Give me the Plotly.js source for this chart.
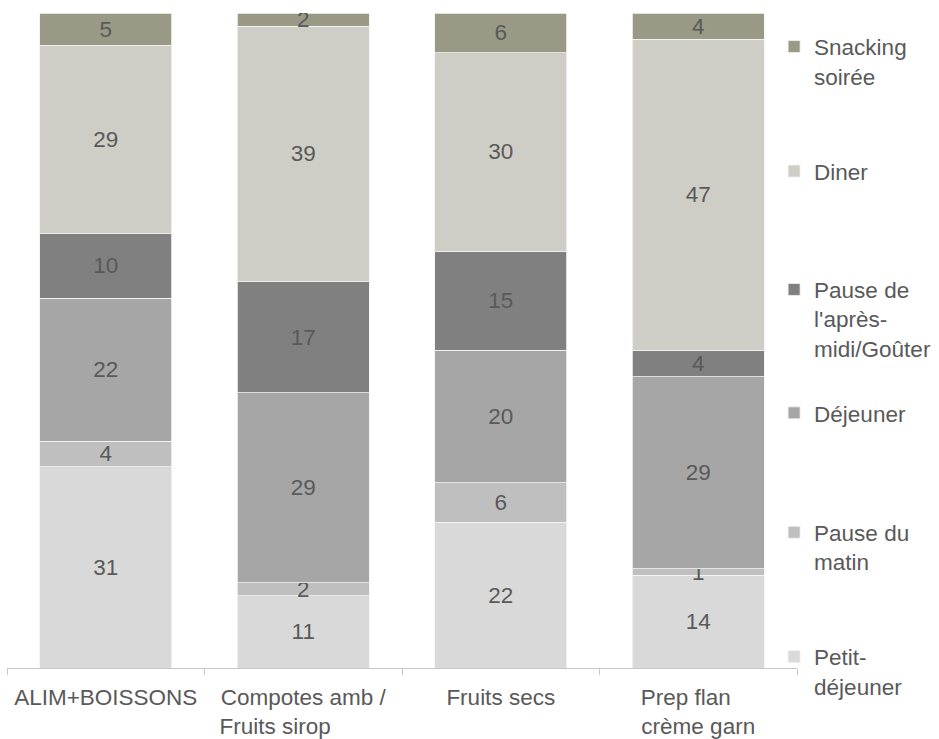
<!DOCTYPE html>
<html>
<head>
<meta charset="utf-8">
<script src="https://cdn.plot.ly/plotly-3.0.1.min.js"></script>
<style>html,body{margin:0;padding:0;background:#fff;}#chart{width:939px;height:739px;}</style>
</head>
<body>
<div id="chart"></div>
<script>
// Categories and padded tick labels (padding keeps lines left-aligned)
const categories = ["ALIM+BOISSONS", "Compotes amb / Fruits sirop", "Fruits secs", "Prep flan crème garn"];
const tickLabels = [
  "ALIM+BOISSONS",
  "Compotes amb /<br>Fruits sirop&nbsp;&nbsp;&nbsp;&nbsp;&nbsp;&nbsp;&nbsp;&nbsp;&nbsp;",
  "Fruits secs",
  "Prep flan&nbsp;&nbsp;&nbsp;&nbsp;<br>crème garn"
];

// Series values (share in %)
const petitDejeuner = [31, 11, 22, 14];
const pauseMatin    = [4, 2, 6, 1];
const dejeuner      = [22, 29, 20, 29];
const pauseApresMidi= [10, 17, 15, 4];
const diner         = [29, 39, 30, 47];
const snackingSoiree= [5, 2, 6, 4];

const seriesNames = ["Petit-<br>déjeuner", "Pause du<br>matin", "Déjeuner", "Pause de<br>l'après-<br>midi/Goûter", "Diner", "Snacking<br>soirée"];
const seriesValues = [petitDejeuner, pauseMatin, dejeuner, pauseApresMidi, diner, snackingSoiree];
const seriesColors = ["#D9D9D9", "#BFBFBF", "#A6A6A6", "#808080", "#CECEC6", "#9A9985"];

const FONT = "Liberation Sans, Arial, sans-serif";
const TXT = "#595959";
const FS = 22.5;

const legendIds = ["legend6", "legend5", "legend4", "legend3", "legend2", "legend"];
const legendTops = [0.0496, 0.2395, 0.4218, 0.6102, 0.7910, 0.9810];

const traces = seriesValues.map((vals, i) => ({
  type: "bar",
  x: categories,
  y: vals,
  name: seriesNames[i],
  text: vals.map(String),
  textposition: "inside",
  insidetextanchor: "middle",
  textangle: 0,
  textfont: {family: FONT, size: FS, color: TXT},
  marker: {color: seriesColors[i], line: {color: "#F4F4F4", width: 0.8}},
  legend: legendIds[i],
  hoverinfo: "skip"
}));

const layout = {
  width: 939,
  height: 739,
  barmode: "stack",
  barnorm: "percent",
  bargap: 0.332,
  paper_bgcolor: "#ffffff",
  plot_bgcolor: "#ffffff",
  margin: {l: 7, r: 142, t: 13, b: 71, autoexpand: false},
  font: {family: FONT, size: FS, color: TXT},
  uniformtext: {minsize: FS, mode: "show"},
  xaxis: {
    type: "category",
    tickmode: "array",
    tickvals: categories,
    ticktext: tickLabels,
    showline: true,
    linecolor: "#C6C6C6",
    linewidth: 1,
    ticks: "outside",
    tickson: "boundaries",
    ticklen: 6,
    tickcolor: "#C6C6C6",
    ticklabelstandoff: 9,
    showgrid: false,
    zeroline: false,
    tickfont: {family: FONT, size: FS, color: TXT}
  },
  yaxis: {visible: false, range: [0, 100], fixedrange: true},
  showlegend: true
};

legendIds.forEach((id, i) => {
  layout[id] = {
    x: 0.971,
    xanchor: "left",
    y: legendTops[i],
    yanchor: "top",
    valign: "top",
    bgcolor: "rgba(0,0,0,0)",
    font: {family: FONT, size: FS, color: TXT}
  };
});

Plotly.newPlot("chart", traces, layout, {displayModeBar: false, staticPlot: true});
</script>
</body>
</html>
